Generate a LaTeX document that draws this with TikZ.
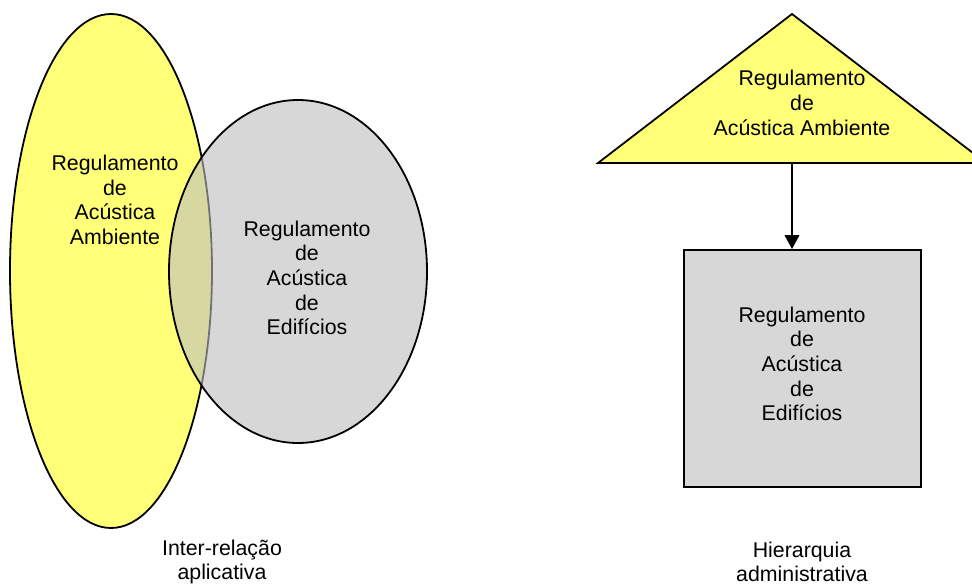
\documentclass[tikz,border=0pt]{standalone}
\usepackage{fontspec}
\setmainfont{Liberation Sans}
\usetikzlibrary{shapes.geometric,arrows.meta}
\definecolor{palayellow}{rgb}{1,1,0.47}
\definecolor{shadegray}{rgb}{0.74,0.74,0.74}
\tikzset{
  outline/.style={draw=black,line width=1.35pt},
  lbl/.style={align=center,font=\fontsize{16}{18.5}\selectfont,inner sep=0pt},
}
\begin{document}
\begin{tikzpicture}[x=0.75pt,y=-0.75pt]
\useasboundingbox (0,0) rectangle (972,585);
% left: overlapping ellipses
\node[ellipse,outline,fill=palayellow,minimum width=151.5pt,minimum height=385.5pt,inner sep=0pt] (rae) at (111,271) {};
\node[ellipse,outline,fill=shadegray,fill opacity=0.6,minimum width=193.5pt,minimum height=257.25pt,inner sep=0pt] (rae2) at (298,271.5) {};
\node[lbl] (raetext) at (115,200) {Regulamento\\de\\Acústica\\Ambiente};
\node[lbl] (raedtext) at (307,278) {Regulamento\\de\\Acústica\\de\\Edifícios};
\node[lbl] (cap1) at (222,562) {Inter-relação\\aplicativa};
% right: hierarchy
\coordinate (apex) at (792,14);
\coordinate (bl) at (598,163);
\coordinate (br) at (986,163);
\coordinate (tribase) at (792,163);
\draw[outline,fill=palayellow,line join=miter] (apex) -- (br) -- (bl) -- cycle;
\node[lbl] (tritext) at (802,103) {Regulamento\\de\\Acústica Ambiente};
\node[rectangle,outline,fill=shadegray!60,minimum width=178pt,minimum height=177.75pt,inner sep=0pt] (sq) at (802.5,368.5) {};
\node[lbl] (sqtext) at (802,364) {Regulamento\\de\\Acústica\\de\\Edifícios};
\draw[line width=1.35pt,-{Triangle[length=10.5pt,width=11pt]}] (tribase) -- (tribase |- sq.north);
\node[lbl] (cap2) at (802,562) {Hierarquia\\administrativa};
\end{tikzpicture}
\end{document}
